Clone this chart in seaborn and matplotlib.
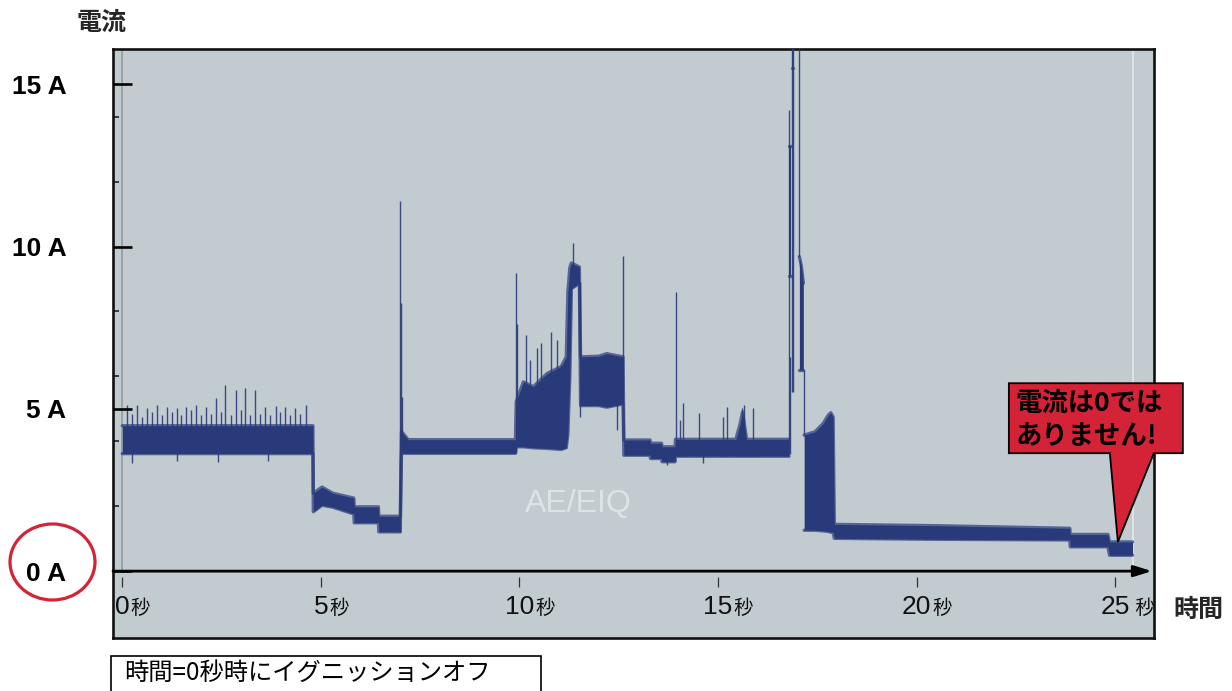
import numpy as np
import pandas as pd
import matplotlib
matplotlib.use("Agg")
import matplotlib.pyplot as plt
import matplotlib.transforms as mtransforms
from matplotlib.patches import Ellipse, Polygon, Rectangle
import seaborn as sns

nan = np.nan

# ---------------- data ----------------
# dense current band: time [s], lower / upper envelope [A]; nan = gap
band_t = [0.00, 4.80, 4.81, 5.03, 5.30, 5.83, 5.84, 6.45, 6.46, 7.00,
          7.03, 7.20, 9.90, 9.92, 10.10, 10.35, 10.70, 11.05, 11.18, 11.22,
          11.27, 11.31, 11.51, 11.54, 12.00, 12.20, 12.61, 12.63, 13.29, 13.30,
          13.58, 13.59, 13.92, 13.93, 15.45, 15.55, 15.62, 15.68, 15.72, 16.79,
          nan, 16.80, 16.84, nan, 16.86, 16.89, nan, 17.05, 17.10, 17.15, nan,
          17.17, 17.44, 17.65, 17.78, 17.84, 17.90, 17.93, 20.50, 23.86, 23.87,
          24.82, 24.86, 25.44]
band_lo = [3.62, 3.62, 1.83, 2.03, 1.97, 1.76, 1.49, 1.49, 1.21, 1.21,
           3.63, 3.63, 3.63, 3.83, 3.83, 3.80, 3.78, 3.75, 3.80, 4.20,
           6.00, 8.70, 8.87, 5.10, 5.10, 5.05, 5.15, 3.57, 3.57, 3.47,
           3.47, 3.37, 3.37, 3.54, 3.54, 3.54, 3.54, 3.54, 3.54, 3.54,
           nan, 9.10, 9.10, nan, 15.50, 15.50, nan, 6.19, 6.19, 6.19, nan,
           1.26, 1.26, 1.24, 1.22, 1.20, 1.20, 1.01, 0.98, 0.96, 0.75,
           0.75, 0.49, 0.49]
band_hi = [4.48, 4.48, 2.40, 2.59, 2.40, 2.25, 1.98, 1.98, 1.69, 1.69,
           4.30, 4.05, 4.05, 5.22, 5.83, 5.68, 6.09, 6.30, 6.60, 8.60,
           9.35, 9.49, 9.37, 6.60, 6.62, 6.70, 6.60, 4.04, 4.04, 3.94,
           3.94, 3.83, 3.83, 4.06, 4.06, 4.50, 4.90, 4.40, 4.06, 4.06,
           nan, 13.10, 13.10, nan, 16.30, 16.30, nan, 9.69, 9.40, 8.87, nan,
           4.19, 4.29, 4.55, 4.81, 4.88, 4.75, 1.44, 1.40, 1.32, 1.13,
           1.13, 0.90, 0.90]

# single spikes / dips: time [s], bottom [A], top [A]
spike_t = [0.11, 0.24, 0.36, 0.49, 0.61, 0.74, 0.87, 0.99, 1.12, 1.24,
           1.37, 1.49, 1.60, 1.73, 1.86, 1.98, 2.11, 2.23, 2.36, 2.48,
           2.59, 2.73, 2.86, 2.98, 3.09, 3.22, 3.35, 3.47, 3.59, 3.72,
           3.86, 3.98, 4.10, 4.22, 4.35, 4.48, 4.62,
           0.24, 1.37, 2.40, 3.67,
           7.00, 7.02, 7.04,
           9.91, 9.935, 10.16, 10.27, 10.45, 10.54, 10.79, 10.95, 11.04, 11.34,
           11.53, 12.45, 12.60,
           13.71, 13.94, 14.04, 14.13, 14.51, 14.62, 15.12, 15.22, 15.60, 15.66,
           15.87,
           16.80, 16.82, 16.86, 16.89, 17.05, 17.16]
spike_lo = [3.70] * 37 + [3.33, 3.39, 3.36, 3.38] + [
           1.21, 3.70, 3.70,
           3.63, 3.83, 3.83, 3.83, 3.80, 3.80, 3.78, 3.76, 3.75, 8.90,
           4.76, 4.35, 5.15,
           3.27, 3.54, 3.54, 3.54, 3.54, 3.32, 3.54, 3.54, 3.54, 3.54,
           3.54,
           3.60, 3.60, 5.53, 5.53, 9.69, 4.19]
spike_hi = [5.12, 4.85, 5.12, 4.75, 5.02, 4.90, 5.12, 4.80, 5.07, 4.90,
            5.02, 4.80, 5.07, 4.95, 5.12, 4.80, 5.05, 4.85, 5.33, 4.90,
            5.73, 4.80, 5.58, 4.95, 5.64, 4.80, 5.58, 4.85, 5.07, 4.80,
            5.09, 4.90, 5.05, 4.80, 5.02, 4.85, 5.12,
            3.70, 3.70, 3.70, 3.70,
            11.41, 8.26, 5.36,
            9.18, 7.61, 7.27, 6.50, 6.86, 7.02, 7.37, 7.12, 6.35, 10.12,
            8.90, 5.20, 9.71,
            3.80, 8.61, 4.65, 5.17, 4.86, 3.80, 4.76, 5.06, 5.04, 5.12,
            5.01,
            14.21, 6.60, 16.50, 16.50, 16.50, 6.19]

y_ticks = [0, 5, 10, 15]
y_tick_labels = ["0 A", "5 A", "10 A", "15 A"]
y_minor = [2, 4, 6, 8, 12, 14]
x_ticks = [0, 5, 10, 15, 20, 25]
x_tick_labels = ["0", "5", "10", "15", "20", "25"]
x_units = ["秒", "秒", "秒", "秒", "秒", " 秒"]
y_label = "電流"
x_label = "時間"
callout_text = "電流は0では\nありません!"
callout_tip = (25.07, 0.90)
note_text = "時間=0秒時にイグニッションオフ"
watermark = "AE/EIQ"

assert len(band_t) == len(band_lo) == len(band_hi)
assert len(spike_t) == len(spike_lo) == len(spike_hi)

# ---------------- style ----------------
NAVY = "#283a7a"
BG = "#c2ccd0"
RED = "#d42336"
CJK = ["Noto Sans CJK JP", "DejaVu Sans"]

sns.set_theme(style="white")
plt.rcParams["font.family"] = ["Liberation Sans", "Noto Sans CJK JP", "DejaVu Sans"]

W_PX, H_PX = 1232, 691
fig = plt.figure(figsize=(W_PX / 100, H_PX / 100), dpi=100)
ax_l, ax_r, ax_t, ax_b = 113, 1154, 48.5, 638
ax = fig.add_axes([ax_l / W_PX, 1 - ax_b / H_PX, (ax_r - ax_l) / W_PX, (ax_b - ax_t) / H_PX])
ax.set_facecolor(BG)
ax.set_xlim(-0.234, 25.98)
ax.set_ylim(-2.06, 16.1)
for sp in ax.spines.values():
    sp.set_color("#111111")
    sp.set_linewidth(1.9)
    sp.set_visible(True)

# ---------------- band ----------------
band = pd.DataFrame({"t": band_t, "lo": band_lo, "hi": band_hi})
band["seg"] = band["t"].isna().cumsum()
band = band.dropna().reset_index(drop=True)
for _, g in band.groupby("seg"):
    ax.fill_between(g["t"], g["lo"], g["hi"], color=NAVY, lw=0, zorder=3)
for col in ("lo", "hi"):
    sns.lineplot(data=band, x="t", y=col, units="seg", estimator=None, sort=False,
                 color=NAVY, lw=2.4, alpha=0.7, ax=ax, legend=False, zorder=3)
ax.vlines(spike_t, spike_lo, spike_hi, color=NAVY, lw=1.0, alpha=0.9, zorder=3)

frac0 = (0 - ax.get_ylim()[0]) / (ax.get_ylim()[1] - ax.get_ylim()[0])
ax.axvline(x_ticks[0], ymin=frac0, ymax=1, color="#98a1a6", lw=1.4, zorder=2)
ax.axvline(band["t"].iloc[-1], ymin=frac0, ymax=1, color="#e4e9eb", lw=1.2, zorder=2)

ax.text(11.48, 2.06, watermark, color="#dde3e6", fontsize=23, ha="center", va="center",
        family=["Liberation Sans", "DejaVu Sans"], zorder=2)

# zero line with arrow
ax.annotate("", xy=(0.998, 0), xytext=(0, 0), xycoords=ax.get_yaxis_transform(),
            arrowprops=dict(arrowstyle="-|>,head_length=0.9,head_width=0.28",
                            color="black", lw=2.0, shrinkA=0, shrinkB=0,
                            mutation_scale=12), zorder=4)

# ---------------- y axis ----------------
ax.set_yticks(y_ticks)
ax.set_yticklabels(y_tick_labels)
ax.set_yticks(y_minor, minor=True)
ax.tick_params(axis="y", which="major", direction="out", length=6.5, width=1.9,
               color="black", pad=27, labelsize=19, labelcolor="black")
ax.tick_params(axis="y", which="minor", direction="in", length=4.0, width=1.2,
               color="#222222", left=True)
for lab in ax.get_yticklabels():
    lab.set_fontweight("bold")
    lab.set_family(["Liberation Sans", "DejaVu Sans"])
ax.hlines(y_ticks, 0, 19 / (ax_r - ax_l), transform=ax.get_yaxis_transform(),
          color="black", lw=1.9, zorder=4)
ax.set_ylabel(y_label, rotation=0, ha="center", va="center", fontsize=18,
              fontweight="bold", family=CJK)
ax.yaxis.set_label_coords((101.7 - ax_l) / (ax_r - ax_l), (ax_b - 22.5) / (ax_b - ax_t))

# ---------------- x axis (ticks just below the 0 A line) ----------------
ax.tick_params(axis="x", bottom=False, labelbottom=False)
ax_h_px = ax_b - ax_t
sec_loc = frac0 - 6 / ax_h_px
sec = ax.secondary_xaxis(sec_loc)
for sp in sec.spines.values():
    sp.set_visible(False)
sec.set_xticks(x_ticks)
sec.set_xticklabels(x_tick_labels)
sec.tick_params(axis="x", direction="out", length=7.2, width=0.9, color="#333333",
                pad=6, labelsize=19, labelcolor="#111111")
for lab in sec.get_xticklabels():
    lab.set_family(["Liberation Sans Narrow", "Liberation Sans", "DejaVu Sans"])

ax.set_xlabel(x_label, fontsize=18, fontweight="bold", family=CJK, ha="center", va="center")
ax.xaxis.set_label_coords((1198 - ax_l) / (ax_r - ax_l), (ax_b - 609.5) / ax_h_px)

# ---------------- red circle around 0 A ----------------
fig.add_artist(Ellipse((52.5 / W_PX, 1 - 562 / H_PX), 85 / W_PX, 76 / H_PX,
                       transform=fig.transFigure, fill=False, ec=RED, lw=2.3))

# ---------------- bottom note box ----------------
fig.add_artist(Rectangle((111 / W_PX, -0.05), 430 / W_PX, (H_PX - 656) / H_PX + 0.05,
                         transform=fig.transFigure, fc="white", ec="black", lw=1.2))
fig.text(124 / W_PX, 1 - 673 / H_PX, note_text, ha="left", va="center", fontsize=17.5,
         family=CJK, color="black")

# ---------------- callout ----------------
fig.canvas.draw()
tip = ax.transData.transform(callout_tip)
offs = np.array([(-109, 158.7), (65, 158.7), (65, 88.7), (36, 88.7), (0, 0),
                 (-8, 88.7), (-109, 88.7)])
ax.add_patch(Polygon(tip + offs, closed=True, transform=mtransforms.IdentityTransform(),
                     fc=RED, ec="black", lw=1.3, clip_on=False, zorder=6))
ax.annotate(callout_text, xy=callout_tip, xycoords="data", xytext=(-102, 122),
            textcoords="offset pixels", ha="left", va="center", fontsize=19,
            fontweight="bold", family=CJK, linespacing=1.3, color="black", zorder=7,
            annotation_clip=False)

# ---------------- 秒 units after each tick number ----------------
fig.canvas.draw()
r = fig.canvas.get_renderer()
for lab, unit in zip(sec.get_xticklabels(), x_units):
    bb = lab.get_window_extent(r)
    fig.text(bb.x1 + 1, bb.y0 + 0.2 * 19 * 100 / 72, unit, transform=mtransforms.IdentityTransform(),
             ha="left", va="baseline", fontsize=14, family=CJK, color="#111111")

fig.savefig("out.png", dpi=100)
